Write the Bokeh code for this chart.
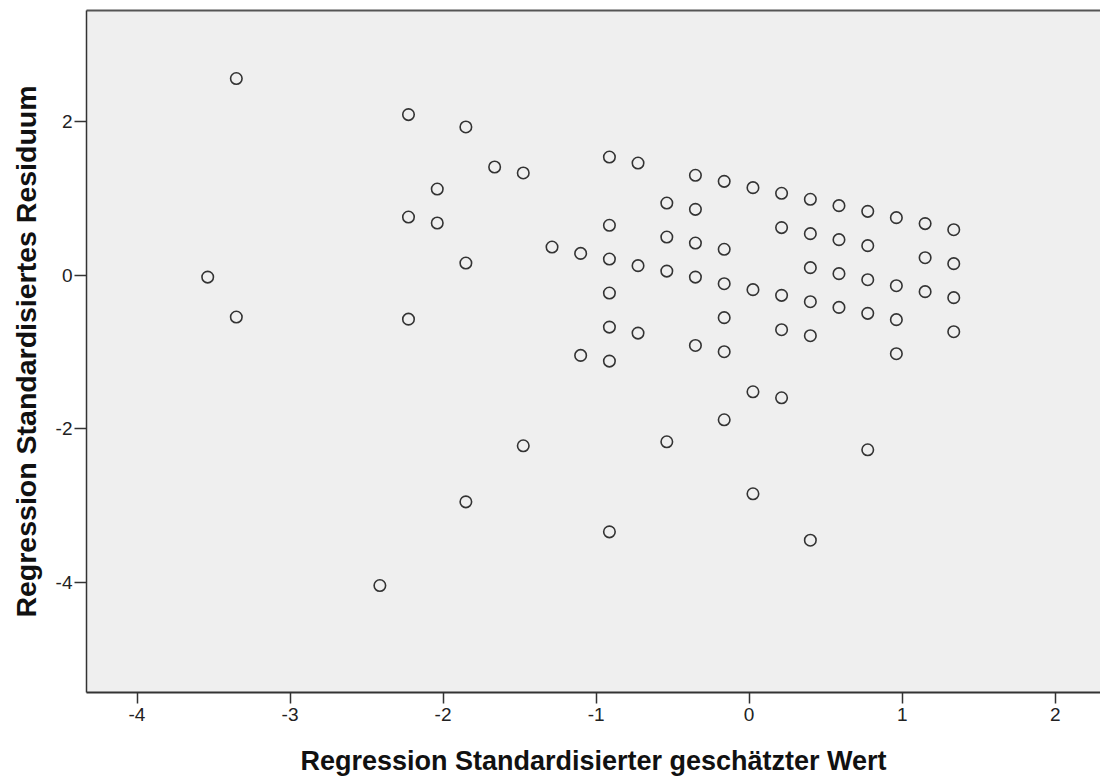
from bokeh.plotting import figure
from bokeh.models import LinearAxis, FixedTicker, Range1d
from bokeh.embed import file_html
from bokeh.resources import INLINE

# Standardized predicted values (x) and standardized residuals (y), one entry per case
pred = [
    -3.538,
    -3.351, -3.351,
    -2.413,
    -2.226, -2.226, -2.226,
    -2.038, -2.038,
    -1.851, -1.851, -1.851,
    -1.663,
    -1.476, -1.476,
    -1.288,
    -1.101, -1.101,
    -0.913, -0.913, -0.913, -0.913, -0.913, -0.913, -0.913,
    -0.726, -0.726, -0.726,
    -0.538, -0.538, -0.538, -0.538,
    -0.351, -0.351, -0.351, -0.351, -0.351,
    -0.163, -0.163, -0.163, -0.163, -0.163, -0.163,
    0.025, 0.025, 0.025, 0.025,
    0.212, 0.212, 0.212, 0.212, 0.212,
    0.400, 0.400, 0.400, 0.400, 0.400, 0.400,
    0.587, 0.587, 0.587, 0.587,
    0.775, 0.775, 0.775, 0.775, 0.775,
    0.962, 0.962, 0.962, 0.962,
    1.150, 1.150, 1.150,
    1.337, 1.337, 1.337, 1.337,
]
resid = [
    -0.025,
    2.563, -0.546,
    -4.046,
    2.093, 0.758, -0.573,
    1.123, 0.680,
    1.932, 0.158, -2.955,
    1.410,
    1.332, -2.224,
    0.367,
    0.284, -1.046,
    1.540, 0.650, 0.210, -0.233, -0.677, -1.120, -3.346,
    1.462, 0.124, -0.755,
    0.940, 0.497, 0.053, -2.172,
    1.302, 0.858, 0.419, -0.025, -0.916,
    1.223, 0.337, -0.111, -0.554, -0.998, -1.885,
    1.141, -0.189, -1.520, -2.850,
    1.067, 0.620, -0.263, -0.711, -1.598,
    0.989, 0.541, 0.098, -0.346, -0.789, -3.455,
    0.906, 0.463, 0.020, -0.420,
    0.832, 0.385, -0.059, -0.498, -2.276,
    0.750, -0.137, -0.580, -1.024,
    0.672, 0.228, -0.215,
    0.593, 0.150, -0.293, -0.737,
]

x_ticks = [-4, -3, -2, -1, 0, 1, 2]
y_ticks = [-4, -2, 0, 2]

x_title = "Regression Standardisierter geschätzter Wert"
y_title = "Regression Standardisiertes Residuum"

FONT = "Liberation Sans"


def plain_labels(ticks):
    # ASCII hyphen for negative numbers
    return {t: str(t) for t in ticks}


p = figure(
    width=1100, height=778,
    x_range=Range1d(-4.33, 2.296), y_range=Range1d(-5.44, 3.45),
    output_backend="svg", toolbar_location=None,
    min_border_left=86, min_border_right=0, min_border_top=10, min_border_bottom=86,
)
p.background_fill_color = "#efefef"
p.border_fill_color = "white"
p.outline_line_color = None
p.grid.visible = False

# bottom axis
xa = p.xaxis[0]
xa.ticker = FixedTicker(ticks=x_ticks)
xa.major_label_overrides = plain_labels(x_ticks)
xa.axis_label = x_title
xa.axis_label_text_font = FONT
xa.axis_label_text_font_style = "bold"
xa.axis_label_text_font_size = "27px"
xa.axis_label_text_color = "#111111"
xa.axis_label_standoff = 22
xa.major_label_text_font = FONT
xa.major_label_text_font_size = "19px"
xa.major_label_text_color = "#222222"
xa.major_label_standoff = 4
xa.major_tick_out = 11
xa.major_tick_in = 0
xa.minor_tick_out = 0
xa.minor_tick_in = 0
xa.axis_line_color = "#333333"
xa.axis_line_width = 2
xa.major_tick_line_color = "#333333"
xa.major_tick_line_width = 1.5

# left axis
ya = p.yaxis[0]
ya.ticker = FixedTicker(ticks=y_ticks)
ya.major_label_overrides = plain_labels(y_ticks)
ya.axis_label = y_title
ya.axis_label_text_font = FONT
ya.axis_label_text_font_style = "bold"
ya.axis_label_text_font_size = "28.5px"
ya.axis_label_text_color = "#111111"
ya.axis_label_standoff = 11
ya.major_label_text_font = FONT
ya.major_label_text_font_size = "19px"
ya.major_label_text_color = "#222222"
ya.major_label_standoff = 2
ya.major_label_orientation = "horizontal"
ya.major_tick_out = 12
ya.major_tick_in = 0
ya.minor_tick_out = 0
ya.minor_tick_in = 0
ya.axis_line_color = "#333333"
ya.axis_line_width = 1.5
ya.major_tick_line_color = "#333333"
ya.major_tick_line_width = 1.5

# top frame edge, drawn as a bare axis line
top = LinearAxis(ticker=FixedTicker(ticks=[]), major_tick_out=0, major_tick_in=0,
                 minor_tick_out=0, minor_tick_in=0, major_label_text_font_size="0px",
                 axis_line_color="#555555", axis_line_width=2)
p.add_layout(top, "above")

p.scatter(pred, resid, marker="circle", size=11.5, fill_color=None,
          line_color="#333333", line_width=1.6)

open("out.html", "w").write(file_html(p, INLINE))
